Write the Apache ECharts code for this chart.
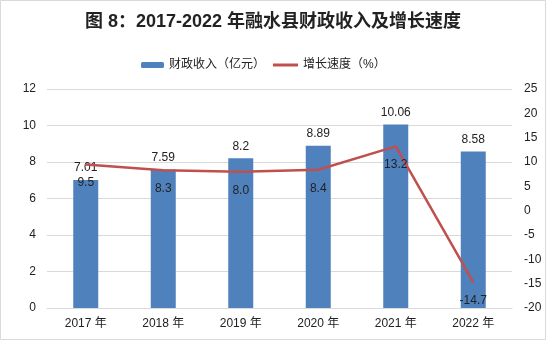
<!DOCTYPE html>
<html><head><meta charset="utf-8">
<script src="https://cdn.jsdelivr.net/npm/echarts@6/dist/echarts.min.js"></script>
<style>html,body{margin:0;padding:0;background:#fff}#c{width:546px;height:340px}</style>
</head><body><div id="c"></div>
<script>
const categories = ['2017 年','2018 年','2019 年','2020 年','2021 年','2022 年'];
const revenue = [7.01, 7.59, 8.2, 8.89, 10.06, 8.58];
const growth = [9.5, 8.3, 8.0, 8.4, 13.2, -14.7];
const leftTicks = {min:0, max:12, interval:2};
const rightTicks = {min:-20, max:25, interval:5};
const FONT = '"Liberation Sans", "Noto Sans CJK SC", sans-serif';
const chart = echarts.init(document.getElementById('c'));
chart.setOption({
  animation:false,
  backgroundColor:'#fff',
  title:{text:'图 8：2017-2022 年融水县财政收入及增长速度', left:'center', top:8,
    textStyle:{fontFamily:FONT, fontSize:18, fontWeight:'bold', color:'#222'}},
  graphic:[{type:'rect', shape:{x:0.5,y:0.5,width:545,height:339}, style:{fill:'none', stroke:'#d9d9d9', lineWidth:1}}],
  legend:[
    {data:['财政收入（亿元）'], left:136, top:54, itemWidth:23, itemHeight:6, itemGap:10,
     textStyle:{fontFamily:FONT, fontSize:12, color:'#222'}},
    {data:['增长速度（%）'], left:268, top:54, itemWidth:25, itemHeight:3, icon:'rect',
     textStyle:{fontFamily:FONT, fontSize:12, color:'#222'}}
  ],
  grid:{left:47, right:34, top:89, bottom:32, containLabel:false},
  xAxis:{type:'category', data:categories,
    axisLine:{lineStyle:{color:'#d9d9d9'}}, axisTick:{show:false},
    axisLabel:{fontFamily:FONT, fontSize:12, color:'#222', margin:10}},
  yAxis:[
    {type:'value', min:leftTicks.min, max:leftTicks.max, interval:leftTicks.interval,
     axisLine:{show:false}, axisTick:{show:false},
     splitLine:{lineStyle:{color:'#d9d9d9'}},
     axisLabel:{fontFamily:FONT, fontSize:12, color:'#222', margin:11}},
    {type:'value', min:rightTicks.min, max:rightTicks.max, interval:rightTicks.interval,
     axisLine:{show:false}, axisTick:{show:false}, splitLine:{show:false},
     axisLabel:{fontFamily:FONT, fontSize:12, color:'#222', margin:12, align:'left'}}
  ],
  series:[
    {name:'财政收入（亿元）', type:'bar', data:revenue, barWidth:25, yAxisIndex:0,
     itemStyle:{color:'#4F81BD'},
     label:{show:true, position:'top', distance:6, fontFamily:FONT, fontSize:12, color:'#222'}},
    {name:'增长速度（%）', type:'line', data:growth, yAxisIndex:1, symbol:'circle', symbolSize:1, showSymbol:true,
     itemStyle:{color:'#C0504D'},
     lineStyle:{color:'#C0504D', width:2.5},
     label:{show:true, position:'bottom', distance:12, fontFamily:FONT, fontSize:12, color:'#222',
       formatter:p => Number(p.value).toFixed(1)}}
  ]
});
</script></body></html>
